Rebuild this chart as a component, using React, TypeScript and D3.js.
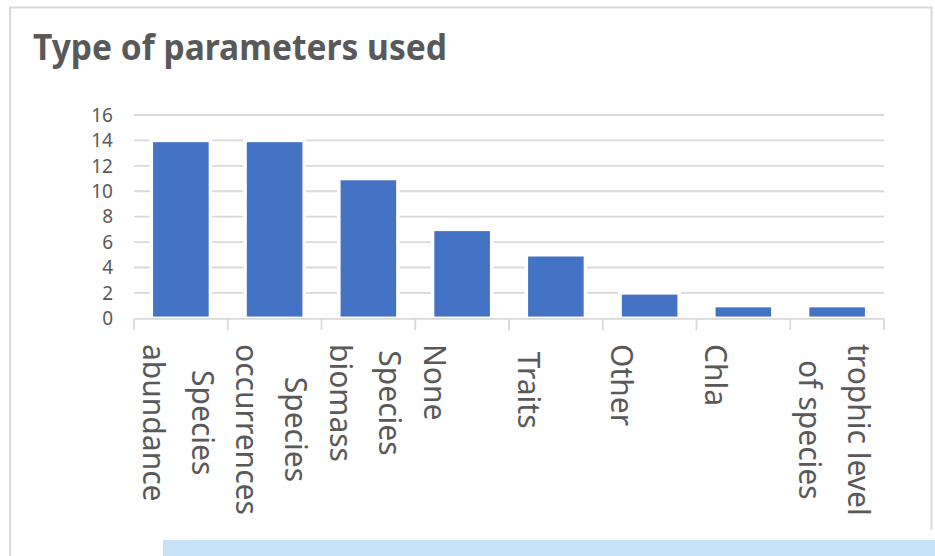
import React, { useEffect, useRef } from 'react';
import * as d3 from 'd3';

const title = 'Type of parameters used';
const categories = [
  'Species abundance',
  'Species occurrences',
  'Species biomass',
  'None',
  ' Traits',
  'Other',
  'Chla',
  'trophic level of species',
];
const categoryLines = [
  ['Species', 'abundance'],
  ['Species', 'occurrences'],
  ['Species', 'biomass'],
  ['None'],
  [' Traits'],
  ['Other'],
  ['Chla'],
  ['trophic level', 'of species'],
];
const values = [14, 14, 11, 7, 5, 2, 1, 1];
const yTicks = [0, 2, 4, 6, 8, 10, 12, 14, 16];

const W = 935;
const H = 556;
const TEXT = '#595959';
const GRID = '#d9d9d9';
const BAR = '#4472C4';
const FONT = "'Noto Sans', 'DejaVu Sans', sans-serif";

export default function App() {
  const ref = useRef<SVGSVGElement | null>(null);

  useEffect(() => {
    const svg = d3.select(ref.current);
    svg.selectAll('*').remove();

    const x = d3.scaleBand<string>().domain(categories).range([134, 884]).paddingInner(0).paddingOuter(0);
    const y = d3.scaleLinear().domain([0, 16]).range([318.3, 115]);
    const y0 = y(0);

    svg.append('rect').attr('width', W).attr('height', H).attr('fill', '#fff');

    // chart border
    svg.append('path')
      .attr('d', 'M10,556 V7.5 H931.5 V530')
      .attr('fill', 'none')
      .attr('stroke', GRID)
      .attr('stroke-width', 2);

    svg.append('rect')
      .attr('x', 163).attr('y', 540).attr('width', W - 163).attr('height', 16)
      .attr('fill', '#c5e2f7');

    // title
    svg.append('text')
      .attr('x', 33).attr('y', 60)
      .attr('font-family', FONT)
      .attr('font-weight', 700)
      .attr('font-size', 36)
      .attr('textLength', 414)
      .attr('lengthAdjust', 'spacingAndGlyphs')
      .attr('fill', TEXT)
      .text(title);

    // gridlines
    svg.append('g')
      .selectAll('line')
      .data(yTicks.filter((t) => t !== 0))
      .join('line')
      .attr('x1', 134).attr('x2', 884)
      .attr('y1', (d) => y(d)).attr('y2', (d) => y(d))
      .attr('stroke', GRID).attr('stroke-width', 1.8);

    // y tick labels
    svg.append('g')
      .selectAll('text')
      .data(yTicks)
      .join('text')
      .attr('x', 113)
      .attr('y', (d) => y(d))
      .attr('dy', '0.36em')
      .attr('text-anchor', 'end')
      .attr('font-family', FONT)
      .attr('font-size', 19)
      .attr('fill', TEXT)
      .text((d) => String(d));

    // bars
    const bw = x.bandwidth() * 0.63;
    svg.append('g')
      .selectAll('rect')
      .data(values)
      .join('rect')
      .attr('x', (_, i) => (x(categories[i]) as number) + x.bandwidth() / 2 - bw / 2)
      .attr('y', (d) => y(d))
      .attr('width', bw)
      .attr('height', (d) => y0 - y(d))
      .attr('fill', BAR)
      .attr('stroke', '#fff')
      .attr('stroke-width', 3.5);

    // axis line + ticks
    const ax = svg.append('g');
    ax.append('line')
      .attr('x1', 134).attr('x2', 884)
      .attr('y1', y0 + 0.5).attr('y2', y0 + 0.5)
      .attr('stroke', GRID).attr('stroke-width', 1.8);
    const bounds = categories.map((c) => x(c) as number).concat([884]);
    ax.selectAll('line.tick')
      .data(bounds)
      .join('line')
      .attr('class', 'tick')
      .attr('x1', (d) => d).attr('x2', (d) => d)
      .attr('y1', y0).attr('y2', y0 + 12)
      .attr('stroke', GRID).attr('stroke-width', 1.8);

    // category labels (rotated 90deg)
    const lg = svg.append('g');
    categoryLines.forEach((lines, i) => {
      const left = x(categories[i]) as number;
      const n = lines.length;
      const nodes = lines.map((line) =>
        lg.append('text')
          .attr('font-family', FONT)
          .attr('font-size', 30)
          .attr('fill', TEXT)
          .attr('text-anchor', 'middle')
          .style('white-space', 'pre')
          .text(line)
      );
      const maxLen = d3.max(nodes, (t) => (t.node() as SVGTextElement).getComputedTextLength()) || 0;
      const cy = 344 + maxLen / 2;
      nodes.forEach((t, j) => {
        const bx = left + 8.5 + (n - 1 - j) * 49;
        t.attr('transform', `translate(${bx},${cy}) rotate(90)`);
      });
    });
  }, []);

  return (
    <svg
      ref={ref}
      width={W}
      height={H}
      viewBox={`0 0 ${W} ${H}`}
      style={{ position: 'absolute', left: 0, top: 0 }}
    />
  );
}
